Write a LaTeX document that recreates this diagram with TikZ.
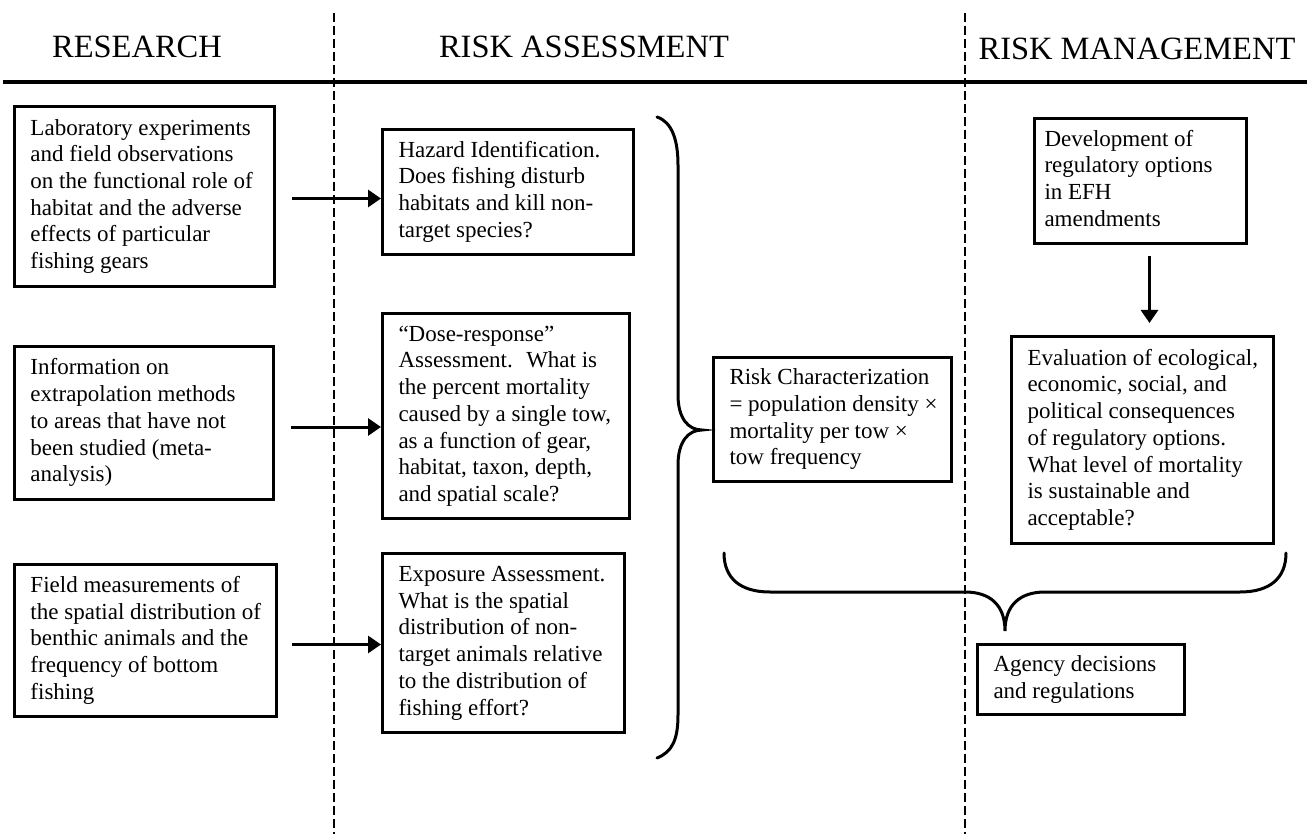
\documentclass[tikz,border=0pt]{standalone}
\usepackage{fontspec}
\setmainfont{Liberation Serif}
\usetikzlibrary{arrows.meta}
\newcommand{\boxlines}[2]{\makebox[#1pt][l]{\begin{tabular}{@{}l@{}}#2\end{tabular}}}
\tikzset{
  box/.style={draw, line width=3pt, inner xsep=16pt, inner ysep=0pt, anchor=north west,
    font=\fontsize{23}{26.7}\selectfont},
  head/.style={font=\fontsize{32.5}{36}\selectfont, anchor=base, inner sep=0pt},
  arr/.style={line width=3pt, -{Triangle[length=13pt,width=17pt]}},
  brace/.style={line width=3pt, line cap=round},
  divider/.style={line width=1.8pt, dash pattern=on 9pt off 4pt},
}
\begin{document}
\begin{tikzpicture}[x=1pt,y=-1pt]
\useasboundingbox (0,0) rectangle (1307,834);
% dividers
\draw[divider] (334,13) -- (334,834);
\draw[divider] (965,13) -- (965,834);
\draw[line width=4pt] (3,82) -- (1307,82);
% headers
\node[head] (h1) at (137,58) {RESEARCH};
\node[head] (h2) at (584,58) {RISK ASSESSMENT};
\node[head] (h3) at (1137,60) {RISK MANAGEMENT};
% research boxes
\node[box, minimum width=260pt, minimum height=180pt] (r1) at (13,105)
  {\boxlines{228}{Laboratory experiments\\and field observations\\on the functional role of\\habitat and the adverse\\effects of particular\\fishing gears}};
\node[box, minimum width=259pt, minimum height=153pt] (r2) at (13,345)
  {\boxlines{227}{Information on\\extrapolation methods\\to areas that have not\\been studied (meta-\\analysis)}};
\node[box, minimum width=262pt, minimum height=152pt] (r3) at (13,563)
  {\boxlines{230}{Field measurements of\\the spatial distribution of\\benthic animals and the\\frequency of bottom\\fishing}};
% assessment boxes
\node[box, minimum width=251pt, minimum height=125pt] (a1) at (381,128)
  {\boxlines{219}{Hazard Identification.\\Does fishing disturb\\habitats and kill non-\\target species?}};
\node[box, minimum width=247pt, minimum height=205pt] (a2) at (381,312)
  {\boxlines{215}{“Dose-response”\\Assessment.~ What is\\the percent mortality\\caused by a single tow,\\as a function of gear,\\habitat, taxon, depth,\\and spatial scale?}};
\node[box, minimum width=242pt, minimum height=179pt] (a3) at (381,552)
  {\boxlines{210}{Exposure Assessment.\\What is the spatial\\distribution of non-\\target animals relative\\to the distribution of\\fishing effort?}};
\node[box, minimum width=238pt, minimum height=124pt] (rc) at (712,356)
  {\boxlines{206}{Risk Characterization\\= population density ×\\mortality per tow ×\\tow frequency}};
% management boxes
\node[box, inner xsep=10pt, minimum width=212pt, minimum height=125pt] (dev) at (1033,117)
  {\boxlines{192}{Development of\\regulatory options\\in EFH\\amendments}};
\node[box, minimum width=262pt, minimum height=207pt] (ev) at (1010,335)
  {\boxlines{230}{Evaluation of ecological,\\economic, social, and\\political consequences\\of regulatory options.\\What level of mortality\\is sustainable and\\acceptable?}};
\node[box, minimum width=207pt, minimum height=70pt] (ag) at (976,643)
  {\boxlines{175}{Agency decisions\\and regulations}};
% arrows
\draw[arr, shorten <=16pt] ([yshift=-2pt]r1.east) -- ([yshift=-2pt]r1.east -| a1.west);
\draw[arr, shorten <=16pt] ([yshift=-4pt]r2.east) -- ([yshift=-4pt]r2.east -| a2.west);
\draw[arr, shorten <=14pt] ([yshift=-4pt]r3.east) -- ([yshift=-4pt]r3.east -| a3.west);
\draw[arr, shorten <=11pt, shorten >=12pt] ([xshift=9pt]dev.south) -- ([xshift=9pt]dev.south |- ev.north);
% braces
\draw[brace] (657,117) .. controls (672,122) and (678,140) .. (678,165) -- (678,395)
  .. controls (678,418) and (688,430) .. (702,430)
  .. controls (688,430) and (678,442) .. (678,465) -- (678,715)
  .. controls (678,740) and (672,752) .. (657,758);
\draw[brace] (724,553) .. controls (724,578) and (740,592) .. (770,592) -- (965,592)
  .. controls (990,592) and (1005,605) .. (1005,631)
  .. controls (1005,605) and (1020,592) .. (1045,592) -- (1240,592)
  .. controls (1270,592) and (1286,578) .. (1286,553);
\end{tikzpicture}
\end{document}
